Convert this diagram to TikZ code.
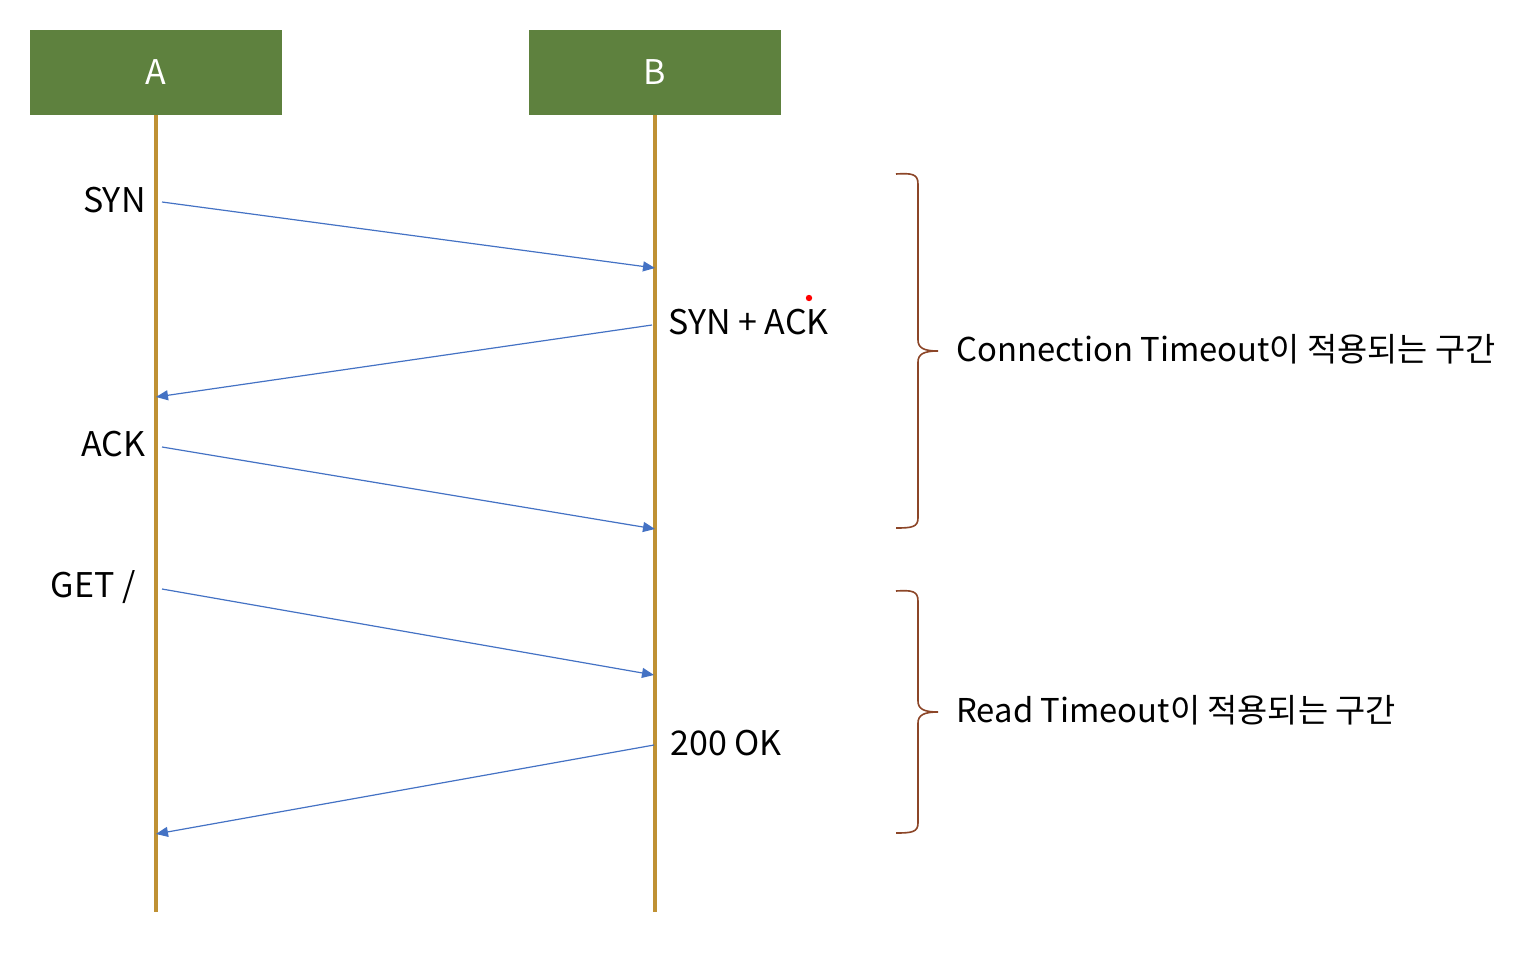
\documentclass[tikz,border=0pt]{standalone}
\usepackage{fontspec}
\setmainfont{Noto Sans CJK KR}
\usetikzlibrary{arrows.meta}
\definecolor{hdr}{RGB}{94,129,62}
\definecolor{life}{RGB}{191,145,52}
\definecolor{msg}{RGB}{68,114,196}
\definecolor{brc}{RGB}{140,70,40}
\tikzset{
  hdrbox/.style={draw=none,fill=hdr,text=white,minimum width=126pt,minimum height=42.5pt,inner sep=0pt,font=\fontsize{17}{20}\selectfont},
  lifeline/.style={draw=life,line width=2pt},
  msgline/.style={draw=msg,line width=0.6pt,-{Triangle[length=6pt,width=5pt]}},
  lbl/.style={inner sep=0pt,font=\fontsize{17}{20}\selectfont},
  sidelbl/.style={inner sep=0pt,font=\fontsize{16.4}{20}\selectfont},
  bracepath/.style={draw=brc,line width=0.8pt},
}
\begin{document}
\begin{tikzpicture}[x=0.5pt,y=-0.5pt]
\useasboundingbox (0,0) rectangle (1531,954);
\node[hdrbox] (A) at (156,72.5) {A};
\node[hdrbox] (B) at (654.5,72.5) {B};
\coordinate (Aend) at (156,912);
\coordinate (Bend) at (655,912);
\draw[lifeline] (A.south) -- (Aend);
\draw[lifeline] (B.south -| Bend) -- (Bend);
% message endpoints
\coordinate (m1s) at (162,202); \coordinate (m1e) at (655,268);
\coordinate (m2s) at (652,325); \coordinate (m2e) at (156,397);
\coordinate (m3s) at (162,447); \coordinate (m3e) at (655,529);
\coordinate (m4s) at (162,589); \coordinate (m4e) at (654,675);
\coordinate (m5s) at (654,745); \coordinate (m5e) at (156,834);
\draw[msgline] (m1s) -- (m1e);
\draw[msgline] (m2s) -- (m2e);
\draw[msgline] (m3s) -- (m3e);
\draw[msgline] (m4s) -- (m4e);
\draw[msgline] (m5s) -- (m5e);
% labels
\node[lbl,anchor=east] (syn) at (146,200) {SYN};
\node[lbl,anchor=west] (synack) at (668,322) {SYN + ACK};
\node[lbl,anchor=east] (ack) at (146,444) {ACK};
\node[lbl,anchor=east] (get) at (136,587) {GET /};
\node[lbl,anchor=west] (ok) at (670,743) {200 OK};
% braces
\draw[bracepath] (896,174) .. controls (912,173) and (918,174) .. (918,184)
  -- (918,340) .. controls (918,348) and (924,351) .. (938,351)
  .. controls (924,351) and (918,354) .. (918,362)
  -- (918,518) .. controls (918,527) and (912,528) .. (896,528);
\draw[bracepath] (896,591) .. controls (912,590) and (918,591) .. (918,601)
  -- (918,701) .. controls (918,709) and (924,712) .. (938,712)
  .. controls (924,712) and (918,715) .. (918,723)
  -- (918,823) .. controls (918,832) and (912,833) .. (896,833);
\node[sidelbl,anchor=west] (ct) at (956,349) {Connection Timeout이 적용되는 구간};
\node[sidelbl,anchor=west] (rt) at (956,710) {Read Timeout이 적용되는 구간};
% stray red dot
\fill[red] (809,298) circle[radius=1.6pt];
\end{tikzpicture}
\end{document}
